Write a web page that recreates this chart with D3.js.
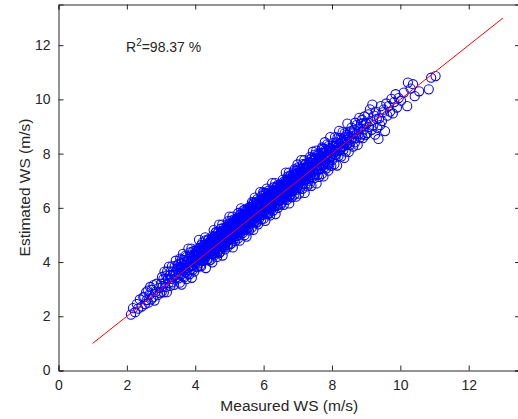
<!DOCTYPE html>
<html><head><meta charset="utf-8">
<script src="https://cdn.jsdelivr.net/npm/d3@7"></script>
<style>body{margin:0;background:#fff}svg{display:block}text{font-family:"Liberation Sans",Arial,sans-serif;fill:#262626}</style>
</head><body><div id="c"></div>
<script>
const xTicks=[0,2,4,6,8,10,12];
const yTicks=[0,2,4,6,8,10,12];
const fitLine=[1,13];
const rSquaredLabel="98.37 %";
const measured=[
2.12,2.18,2.24,2.29,2.33,2.38,2.43,2.48,
2.51,2.53,2.56,2.58,2.61,2.63,2.66,2.68,2.71,2.73,2.76,2.78,2.81,2.84,2.87,2.90,2.94,2.97,
3.00,3.02,3.03,3.05,3.07,3.08,3.10,3.12,3.13,3.15,3.17,3.18,3.20,3.22,3.23,3.25,3.27,3.28,3.30,3.32,3.33,3.35,3.37,3.38,3.40,3.42,3.43,3.45,3.47,3.49,
3.50,3.51,3.52,3.53,3.54,3.55,3.56,3.57,3.58,3.59,3.60,3.61,3.62,3.63,3.64,3.65,3.66,3.67,3.68,3.69,3.70,3.71,3.72,3.73,3.74,3.75,3.76,3.77,3.78,3.79,3.80,3.81,3.82,3.83,3.84,3.85,3.86,3.87,3.88,3.89,3.90,3.91,3.92,3.93,3.94,3.95,3.96,3.97,3.98,3.99,
4.00,4.01,4.02,4.03,4.04,4.05,4.06,4.07,4.08,4.09,4.10,4.11,4.12,4.13,4.14,4.15,4.16,4.17,4.18,4.19,4.20,4.21,4.22,4.23,4.24,4.25,4.26,4.27,4.28,4.29,4.30,4.31,4.32,4.33,4.34,4.35,4.36,4.37,4.38,4.39,4.40,4.41,4.42,4.43,4.44,4.45,4.46,4.47,4.48,4.49,
4.01,4.03,4.05,4.07,4.09,4.11,4.13,4.15,4.17,4.19,4.21,4.23,4.25,4.27,4.29,4.31,4.33,4.35,4.37,4.39,4.41,4.43,4.45,4.47,4.49,
4.50,4.51,4.52,4.53,4.54,4.55,4.56,4.57,4.58,4.59,4.60,4.61,4.62,4.63,4.64,4.65,4.66,4.67,4.68,4.69,4.70,4.71,4.72,4.73,4.74,4.75,4.76,4.77,4.78,4.79,4.80,4.81,4.82,4.83,4.84,4.85,4.86,4.87,4.88,4.89,4.90,4.91,4.92,4.93,4.94,4.95,4.96,4.97,4.98,4.99,
4.50,4.51,4.52,4.53,4.54,4.55,4.56,4.57,4.58,4.59,4.60,4.61,4.62,4.63,4.64,4.65,4.66,4.67,4.68,4.69,4.70,4.71,4.72,4.73,4.74,4.75,4.76,4.77,4.78,4.79,4.80,4.81,4.82,4.83,4.84,4.85,4.86,4.87,4.88,4.89,4.90,4.91,4.92,4.93,4.94,4.95,4.96,4.97,4.98,4.99,
5.00,5.01,5.02,5.03,5.04,5.05,5.06,5.07,5.08,5.09,5.10,5.11,5.12,5.13,5.14,5.15,5.16,5.17,5.18,5.19,5.20,5.21,5.22,5.23,5.24,5.25,5.26,5.27,5.28,5.29,5.30,5.31,5.32,5.33,5.34,5.35,5.36,5.37,5.38,5.39,5.40,5.41,5.42,5.43,5.44,5.45,5.46,5.47,5.48,5.49,
5.00,5.01,5.02,5.03,5.04,5.05,5.06,5.07,5.08,5.09,5.10,5.11,5.12,5.13,5.14,5.15,5.16,5.17,5.18,5.19,5.20,5.21,5.22,5.23,5.24,5.25,5.26,5.27,5.28,5.29,5.30,5.31,5.32,5.33,5.34,5.35,5.36,5.37,5.38,5.39,5.40,5.41,5.42,5.43,5.44,5.45,5.46,5.47,5.48,5.49,
5.50,5.51,5.52,5.53,5.54,5.55,5.56,5.57,5.58,5.59,5.60,5.61,5.62,5.63,5.64,5.65,5.66,5.67,5.68,5.69,5.70,5.71,5.72,5.73,5.74,5.75,5.76,5.77,5.78,5.79,5.80,5.81,5.82,5.83,5.84,5.85,5.86,5.87,5.88,5.89,5.90,5.91,5.92,5.93,5.94,5.95,5.96,5.97,5.98,5.99,
5.50,5.51,5.52,5.53,5.54,5.55,5.56,5.57,5.58,5.59,5.60,5.61,5.62,5.63,5.64,5.65,5.66,5.67,5.68,5.69,5.70,5.71,5.72,5.73,5.74,5.75,5.76,5.77,5.78,5.79,5.80,5.81,5.82,5.83,5.84,5.85,5.86,5.87,5.88,5.89,5.90,5.91,5.92,5.93,5.94,5.95,5.96,5.97,5.98,5.99,
6.00,6.01,6.02,6.03,6.04,6.05,6.06,6.07,6.08,6.09,6.10,6.11,6.12,6.13,6.14,6.15,6.16,6.17,6.18,6.19,6.20,6.21,6.22,6.23,6.24,6.25,6.26,6.27,6.28,6.29,6.30,6.31,6.32,6.33,6.34,6.35,6.36,6.37,6.38,6.39,6.40,6.41,6.42,6.43,6.44,6.45,6.46,6.47,6.48,6.49,
6.00,6.01,6.02,6.03,6.04,6.05,6.06,6.07,6.08,6.09,6.10,6.11,6.12,6.13,6.14,6.15,6.16,6.17,6.18,6.19,6.20,6.21,6.22,6.23,6.24,6.25,6.26,6.27,6.28,6.29,6.30,6.31,6.32,6.33,6.34,6.35,6.36,6.37,6.38,6.39,6.40,6.41,6.42,6.43,6.44,6.45,6.46,6.47,6.48,6.49,
6.50,6.51,6.52,6.53,6.54,6.55,6.56,6.57,6.58,6.59,6.60,6.61,6.62,6.63,6.64,6.65,6.66,6.67,6.68,6.69,6.70,6.71,6.72,6.73,6.74,6.75,6.76,6.77,6.78,6.79,6.80,6.81,6.82,6.83,6.84,6.85,6.86,6.87,6.88,6.89,6.90,6.91,6.92,6.93,6.94,6.95,6.96,6.97,6.98,6.99,
6.50,6.51,6.52,6.53,6.54,6.55,6.56,6.57,6.58,6.59,6.60,6.61,6.62,6.63,6.64,6.65,6.66,6.67,6.68,6.69,6.70,6.71,6.72,6.73,6.74,6.75,6.76,6.77,6.78,6.79,6.80,6.81,6.82,6.83,6.84,6.85,6.86,6.87,6.88,6.89,6.90,6.91,6.92,6.93,6.94,6.95,6.96,6.97,6.98,6.99,
7.00,7.01,7.02,7.03,7.04,7.05,7.06,7.07,7.08,7.09,7.10,7.11,7.12,7.13,7.14,7.15,7.16,7.17,7.18,7.19,7.20,7.21,7.22,7.23,7.24,7.25,7.26,7.27,7.28,7.29,7.30,7.31,7.32,7.33,7.34,7.35,7.36,7.37,7.38,7.39,7.40,7.41,7.42,7.43,7.44,7.45,7.46,7.47,7.48,7.49,
7.01,7.03,7.05,7.07,7.09,7.11,7.13,7.15,7.17,7.19,7.21,7.23,7.25,7.27,7.29,7.31,7.33,7.35,7.37,7.39,7.41,7.43,7.45,7.47,7.49,
7.50,7.51,7.52,7.53,7.54,7.55,7.56,7.57,7.58,7.59,7.60,7.61,7.62,7.63,7.64,7.65,7.66,7.67,7.68,7.69,7.70,7.71,7.72,7.73,7.74,7.75,7.76,7.77,7.78,7.79,7.80,7.81,7.82,7.83,7.84,7.85,7.86,7.87,7.88,7.89,7.90,7.91,7.92,7.93,7.94,7.95,7.96,7.97,7.98,7.99,
7.52,7.56,7.60,7.64,7.68,7.72,7.76,7.80,7.84,7.88,7.92,7.96,
8.00,8.01,8.03,8.04,8.06,8.07,8.09,8.10,8.12,8.13,8.15,8.16,8.18,8.19,8.21,8.22,8.24,8.25,8.27,8.28,8.30,8.31,8.33,8.34,8.36,8.37,8.39,8.40,8.42,8.43,8.45,8.46,8.48,8.49,8.44,
8.02,8.08,8.14,8.20,8.26,8.32,8.38,8.44,8.47,8.11,
8.50,8.52,8.53,8.55,8.57,8.58,8.60,8.62,8.63,8.65,8.67,8.68,8.70,8.72,8.73,8.75,8.77,8.78,8.80,8.82,8.83,8.85,8.87,8.88,8.90,8.92,8.93,8.95,8.97,8.99,
9.01,9.03,9.06,9.08,9.11,9.13,9.16,9.18,9.21,9.23,9.26,9.28,9.31,9.33,9.36,9.38,9.41,9.43,9.46,9.48,
9.51,9.55,9.59,9.62,9.66,9.70,9.74,9.78,9.82,9.86,9.90,9.95,
10.02,10.10,10.20,10.22,10.37,10.42,10.30,
10.55,10.83,10.90,11.03
];
const estimated=[
2.06,2.30,2.15,2.45,2.28,2.62,2.36,2.70,
2.72,2.45,2.88,2.60,2.95,2.50,2.80,3.08,2.62,2.98,2.70,3.15,2.58,2.90,3.20,2.78,3.05,2.85,
3.20,2.90,3.45,3.10,3.37,2.88,3.65,3.24,3.08,3.50,2.89,3.66,3.38,3.22,3.83,3.50,3.12,3.66,3.38,3.84,3.25,3.65,3.52,3.16,3.85,3.52,4.05,3.43,3.75,3.89,
3.70,3.40,3.94,3.59,3.81,3.24,4.13,3.70,3.53,3.95,3.17,4.08,3.79,3.47,4.30,3.88,3.68,4.07,3.44,4.00,3.77,4.23,3.63,3.91,3.37,4.19,4.01,3.57,4.12,3.79,4.50,3.84,4.11,3.55,3.98,4.36,3.72,4.25,3.85,4.50,3.42,4.13,4.04,3.71,4.40,3.88,4.28,3.65,4.22,4.04,
4.10,3.91,4.29,4.00,4.39,4.08,4.25,3.84,4.22,4.32,3.95,4.51,4.07,4.20,4.44,3.87,4.33,4.17,4.63,4.06,4.32,4.46,4.15,4.56,4.04,4.45,4.28,4.64,4.11,4.44,4.80,4.22,4.41,4.62,4.09,4.57,4.32,4.80,4.37,4.70,4.05,4.57,4.48,4.68,4.32,4.79,4.40,4.60,4.87,4.30,
4.45,4.27,3.81,4.40,4.06,4.82,4.14,4.43,3.84,4.32,4.72,4.06,4.63,4.21,4.91,3.78,4.54,4.45,4.11,4.85,4.31,4.74,4.08,4.69,4.52,
3.99,4.96,4.64,4.31,5.18,4.74,4.52,4.94,4.27,4.87,4.62,5.11,4.47,4.77,4.19,5.06,4.87,4.40,4.98,4.63,5.38,4.69,4.97,4.37,4.84,5.23,4.56,5.12,4.69,5.38,4.24,4.99,4.89,4.54,5.27,4.72,5.14,4.47,5.07,4.89,5.06,4.73,5.31,4.94,5.17,4.57,5.51,5.05,4.87,5.31,
4.60,4.74,4.43,4.84,4.32,4.73,4.56,4.92,4.39,4.72,5.08,4.50,4.69,4.90,4.37,4.85,4.60,5.08,4.65,4.98,4.33,4.85,4.76,4.96,4.60,5.07,4.68,4.88,5.15,4.58,4.88,4.69,5.07,4.78,5.17,4.86,5.03,4.62,5.00,5.10,4.73,5.29,4.85,4.98,5.22,4.65,5.11,4.95,5.41,4.84,
5.68,4.99,5.27,4.67,5.14,5.53,4.86,5.42,4.99,5.68,4.54,5.29,5.19,4.84,5.57,5.02,5.44,4.77,5.37,5.19,5.36,5.03,5.61,5.24,5.47,4.87,5.81,5.35,5.17,5.61,4.79,5.76,5.44,5.11,5.98,5.54,5.32,5.74,5.07,5.67,5.42,5.91,5.27,5.57,4.99,5.86,5.67,5.20,5.78,5.43,
5.20,4.95,5.43,5.00,5.33,4.68,5.20,5.11,5.31,4.95,5.42,5.03,5.23,5.50,4.93,5.23,5.04,5.42,5.13,5.52,5.21,5.38,4.97,5.35,5.45,5.08,5.64,5.20,5.33,5.57,5.00,5.46,5.30,5.76,5.19,5.45,5.59,5.28,5.69,5.17,5.58,5.41,5.77,5.24,5.57,5.93,5.35,5.54,5.75,5.22,
4.94,5.69,5.59,5.24,5.97,5.42,5.84,5.17,5.77,5.59,5.76,5.43,6.01,5.64,5.87,5.27,6.21,5.75,5.57,6.01,5.19,6.16,5.84,5.51,6.38,5.94,5.72,6.14,5.47,6.07,5.82,6.31,5.67,5.97,5.39,6.26,6.07,5.60,6.18,5.83,6.58,5.89,6.17,5.57,6.04,6.43,5.76,6.32,5.89,6.58,
5.35,5.91,5.47,5.60,5.84,5.27,5.73,5.57,6.03,5.46,5.72,5.86,5.55,5.96,5.44,5.85,5.68,6.04,5.51,5.84,6.20,5.62,5.81,6.02,5.49,5.97,5.72,6.20,5.77,6.10,5.45,5.97,5.88,6.08,5.72,6.19,5.80,6.00,6.27,5.70,6.00,5.81,6.19,5.90,6.29,5.98,6.15,5.74,6.12,6.22,
5.60,6.54,6.08,5.90,6.34,5.52,6.49,6.17,5.84,6.71,6.27,6.05,6.47,5.80,6.40,6.15,6.64,6.00,6.30,5.72,6.59,6.40,5.93,6.51,6.16,6.91,6.22,6.50,5.90,6.37,6.76,6.09,6.65,6.22,6.91,5.77,6.52,6.42,6.07,6.80,6.25,6.67,6.00,6.60,6.42,6.59,6.26,6.84,6.46,6.70,
6.18,6.01,6.37,5.84,6.17,6.53,5.95,6.14,6.35,5.82,6.30,6.05,6.53,6.10,6.43,5.78,6.30,6.21,6.41,6.05,6.52,6.13,6.33,6.60,6.03,6.33,6.14,6.52,6.23,6.62,6.31,6.48,6.07,6.45,6.55,6.18,6.74,6.30,6.43,6.67,6.10,6.56,6.40,6.86,6.29,6.55,6.69,6.38,6.79,6.27,
6.66,6.44,6.86,6.19,6.79,6.54,7.03,6.39,6.69,6.11,6.98,6.79,6.32,6.90,6.55,7.30,6.61,6.89,6.29,6.76,7.15,6.48,7.04,6.61,7.30,6.16,6.91,6.81,6.46,7.19,6.64,7.06,6.39,6.99,6.81,6.98,6.65,7.23,6.85,7.09,6.49,7.43,6.97,6.79,7.23,6.41,7.38,7.06,6.73,7.60,
6.12,6.64,6.55,6.75,6.39,6.86,6.47,6.67,6.94,6.37,6.67,6.48,6.86,6.57,6.96,6.65,6.82,6.41,6.79,6.89,6.52,7.08,6.64,6.77,7.01,6.44,6.90,6.74,7.20,6.63,6.89,7.03,6.72,7.13,6.61,7.02,6.85,7.21,6.68,7.01,7.37,6.79,6.98,7.19,6.66,7.14,6.89,7.37,6.94,7.27,
6.97,7.49,6.81,7.13,6.52,7.43,7.23,6.74,7.35,6.98,7.76,7.03,7.33,6.70,7.19,7.61,6.89,7.48,7.04,7.76,6.55,7.34,7.24,6.87,7.64,7.06,7.51,6.79,7.43,7.23,7.41,7.07,7.68,7.28,7.53,6.89,7.88,7.40,7.21,7.67,6.81,7.83,7.50,7.15,8.07,7.59,7.36,7.80,7.10,7.73,
7.08,6.90,7.29,7.01,7.41,7.11,7.29,6.89,7.28,7.39,7.03,7.60,7.17,7.31,7.56,7.00,7.47,7.32,7.79,7.23,7.50,7.65,7.35,7.77,7.26,
7.96,7.24,7.83,7.39,8.11,6.90,7.69,7.59,7.22,7.99,7.41,7.86,7.14,7.78,7.58,7.76,7.42,8.03,7.63,7.88,7.24,8.23,7.75,7.56,8.02,7.16,8.18,7.85,7.50,8.42,7.94,7.71,8.15,7.45,8.08,7.82,8.34,7.66,7.98,7.37,8.28,8.08,7.59,8.20,7.83,8.61,7.88,8.18,7.55,8.04,
7.69,7.55,7.94,7.44,7.80,8.19,7.64,7.86,8.10,7.60,8.11,7.89,
8.11,7.77,8.39,7.99,8.25,7.61,8.61,8.13,7.95,8.41,7.56,8.58,8.26,7.91,8.84,8.36,8.14,8.58,7.89,8.52,8.27,8.79,8.12,8.44,7.84,8.75,8.56,8.07,8.69,8.32,9.11,8.38,8.69,8.06,8.49,
8.15,7.95,8.32,8.10,8.40,8.25,8.50,8.35,8.62,8.20,
8.57,8.32,8.82,8.45,8.96,8.55,8.78,8.26,8.75,8.88,8.41,9.14,8.57,8.75,9.06,8.32,8.93,8.71,9.32,8.59,8.92,9.11,8.71,9.24,8.57,9.12,8.89,9.37,8.68,9.12,
9.10,8.75,9.45,8.98,9.63,9.20,8.88,9.81,9.05,9.40,8.70,9.55,9.28,8.95,8.54,9.30,9.05,9.75,9.20,9.52,
9.62,8.83,9.85,9.40,9.75,9.55,10.02,9.48,9.90,10.19,9.70,10.05,
9.95,10.25,9.75,10.62,10.56,10.12,10.40,
10.30,10.37,10.80,10.86
];

const W=518,H=419;
const svg=d3.select("#c").append("svg").attr("width",W).attr("height",H);
const x=d3.scaleLinear().domain([0,13.5]).range([58.5,520]);
const y=d3.scaleLinear().domain([0,13.5]).range([370.5,4.5]);

const n=Math.min(measured.length,estimated.length);
const pts=d3.range(n).map(i=>({m:measured[i],e:estimated[i]}));
const plot=svg.append("g");
plot.selectAll("circle").data(pts).enter().append("circle")
 .attr("cx",d=>x(d.m)).attr("cy",d=>y(d.e)).attr("r",4.6)
 .attr("fill","none").attr("stroke","#0000ff").attr("stroke-width",1.05);

plot.append("line").attr("x1",x(fitLine[0])).attr("y1",y(fitLine[0]))
 .attr("x2",x(fitLine[1])).attr("y2",y(fitLine[1]))
 .attr("stroke","#ff0000").attr("stroke-width",1);

const style=g=>{g.select(".domain").attr("stroke","#262626");g.selectAll(".tick line").attr("stroke","#262626");
 g.selectAll("text").attr("font-size",14).attr("fill","#262626").attr("font-family","Liberation Sans, Arial, sans-serif");};
svg.append("g").attr("transform",`translate(0,${y(0)})`)
 .call(d3.axisBottom(x).tickValues(xTicks).tickSize(-5).tickPadding(10)).call(style);
svg.append("g").attr("transform",`translate(0,${y(13.5)})`)
 .call(d3.axisTop(x).tickValues(xTicks).tickSize(-5).tickFormat("")).call(style);
svg.append("g").attr("transform",`translate(${x(0)},0)`)
 .call(d3.axisLeft(y).tickValues(yTicks).tickSize(-5).tickPadding(8)).call(style);
svg.append("g").attr("transform",`translate(${x(13.5)},0)`)
 .call(d3.axisRight(y).tickValues(yTicks).tickSize(-5).tickFormat("")).call(style);

svg.append("text").attr("x",(x(0)+x(13.5))/2).attr("y",411).attr("text-anchor","middle")
 .attr("font-size",15.5).text("Measured WS (m/s)");
svg.append("text").attr("transform",`translate(30,${(y(0)+y(13.5))/2}) rotate(-90)`).attr("text-anchor","middle")
 .attr("font-size",15.5).text("Estimated WS (m/s)");

const r2=svg.append("text").attr("x",126).attr("y",52).attr("font-size",14);
r2.append("tspan").text("R");
r2.append("tspan").attr("font-size",10).attr("dy",-6).text("2");
r2.append("tspan").attr("dy",6).text("="+rSquaredLabel);
</script></body></html>
